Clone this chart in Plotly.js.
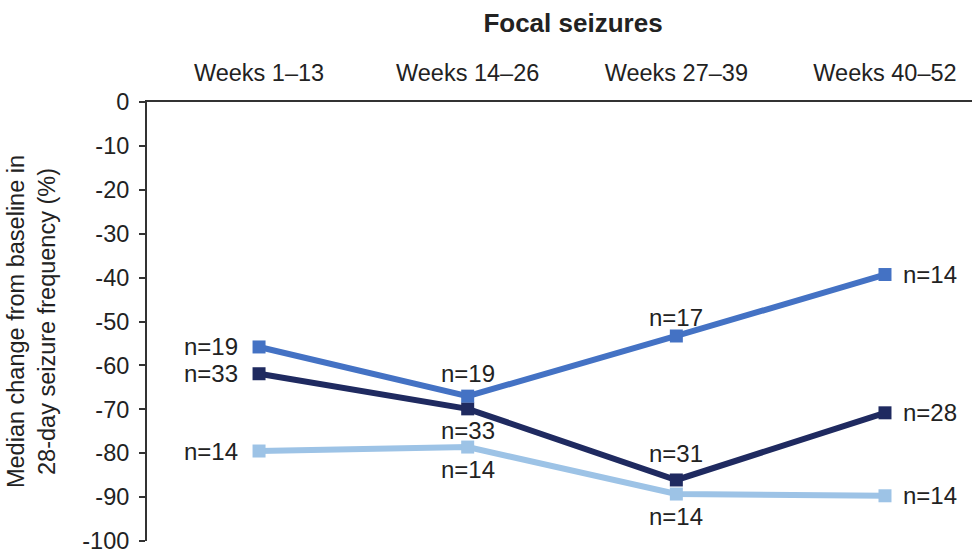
<!DOCTYPE html>
<html>
<head>
<meta charset="utf-8">
<script src="https://cdn.plot.ly/plotly-3.0.1.min.js"></script>
<style>html,body{margin:0;padding:0;background:#fff;}#chart{width:972px;height:554px;}</style>
</head>
<body>
<div id="chart"></div>
<script>
const categories = ["Weeks 1\u201313", "Weeks 14\u201326", "Weeks 27\u201339", "Weeks 40\u201352"];
const seriesA = [-55.8, -67.0, -53.3, -39.3];
const seriesALabels = ["n=19", "n=19", "n=17", "n=14"];
const seriesB = [-61.9, -69.9, -86.1, -70.8];
const seriesBLabels = ["n=33", "n=33", "n=31", "n=28"];
const seriesC = [-79.5, -78.6, -89.3, -89.7];
const seriesCLabels = ["n=14", "n=14", "n=14", "n=14"];
const yTickVals = [0, -10, -20, -30, -40, -50, -60, -70, -80, -90, -100];
const yTickText = ["0", "-10", "-20", "-30", "-40", "-50", "-60", "-70", "-80", "-90", "-100"];

// label placement (style only): L = left, R = right, T = above, B = below
const placeA = ["L", "T", "T", "R"];
const placeB = ["L", "B", "T", "R"];
const placeC = ["L", "B", "B", "R"];

const FONT = "Liberation Sans, Arial, sans-serif";
const TXT = "#222";
const xIdx = categories.map((c, i) => i);

function trace(y, color) {
  return {
    x: xIdx, y: y, type: "scatter", mode: "lines+markers",
    line: {color: color, width: 6},
    marker: {symbol: "square", size: 13, color: color},
    cliponaxis: false, hoverinfo: "skip", showlegend: false
  };
}

function labels(y, texts, place, shiftT) {
  return y.map((v, i) => {
    const p = place[i];
    const a = {x: xIdx[i], y: v, text: texts[i], showarrow: false,
               font: {family: FONT, size: 24, color: TXT}, xref: "x", yref: "y"};
    if (p === "L") { a.xanchor = "right"; a.yanchor = "middle"; a.xshift = -19; }
    if (p === "R") { a.xanchor = "left"; a.yanchor = "middle"; a.xshift = 16; }
    if (p === "T") { a.xanchor = "center"; a.yanchor = "middle"; a.yshift = shiftT ? shiftT[i] : 23; }
    if (p === "B") { a.xanchor = "center"; a.yanchor = "middle"; a.yshift = -22; }
    return a;
  });
}

const data = [
  trace(seriesC, "#9DC3E6"),
  trace(seriesB, "#1F2A60"),
  trace(seriesA, "#4472C4")
];

const annotations = [].concat(
  labels(seriesA, seriesALabels, placeA, [0, 23, 18, 0]),
  labels(seriesB, seriesBLabels, placeB, [0, 0, 26, 0]),
  labels(seriesC, seriesCLabels, placeC)
);

const layout = {
  width: 972, height: 554,
  margin: {l: 147, r: 0, t: 102, b: 13},
  paper_bgcolor: "#fff", plot_bgcolor: "#fff",
  font: {family: FONT, size: 23.5, color: TXT},
  title: {text: "<b>Focal seizures</b>", font: {family: FONT, size: 26, color: TXT},
          x: 573 / 972, xanchor: "center", y: 1 - 23 / 554, yanchor: "middle"},
  annotations: annotations,
  xaxis: {
    side: "top", range: [-0.537, 3.417],
    tickvals: xIdx, ticktext: categories,
    showgrid: false, zeroline: false,
    showline: true, linecolor: "#333", linewidth: 2,
    ticks: "", ticklabelstandoff: 10,
    tickfont: {family: FONT, size: 23.5, color: TXT}
  },
  yaxis: {
    range: [-100, 0], tickvals: yTickVals, ticktext: yTickText,
    showgrid: false, zeroline: false,
    showline: true, linecolor: "#333", linewidth: 2,
    ticks: "outside", ticklen: 6, tickwidth: 2, tickcolor: "#333",
    ticklabelstandoff: 5, ticklabeloverflow: "allow",
    tickfont: {family: FONT, size: 23.5, color: TXT},
    title: {text: "Median change from baseline in<br>28-day seizure frequency (%)",
            font: {family: FONT, size: 23.5, color: TXT}, standoff: 20}
  }
};

Plotly.newPlot("chart", data, layout, {staticPlot: true});
</script>
</body>
</html>
